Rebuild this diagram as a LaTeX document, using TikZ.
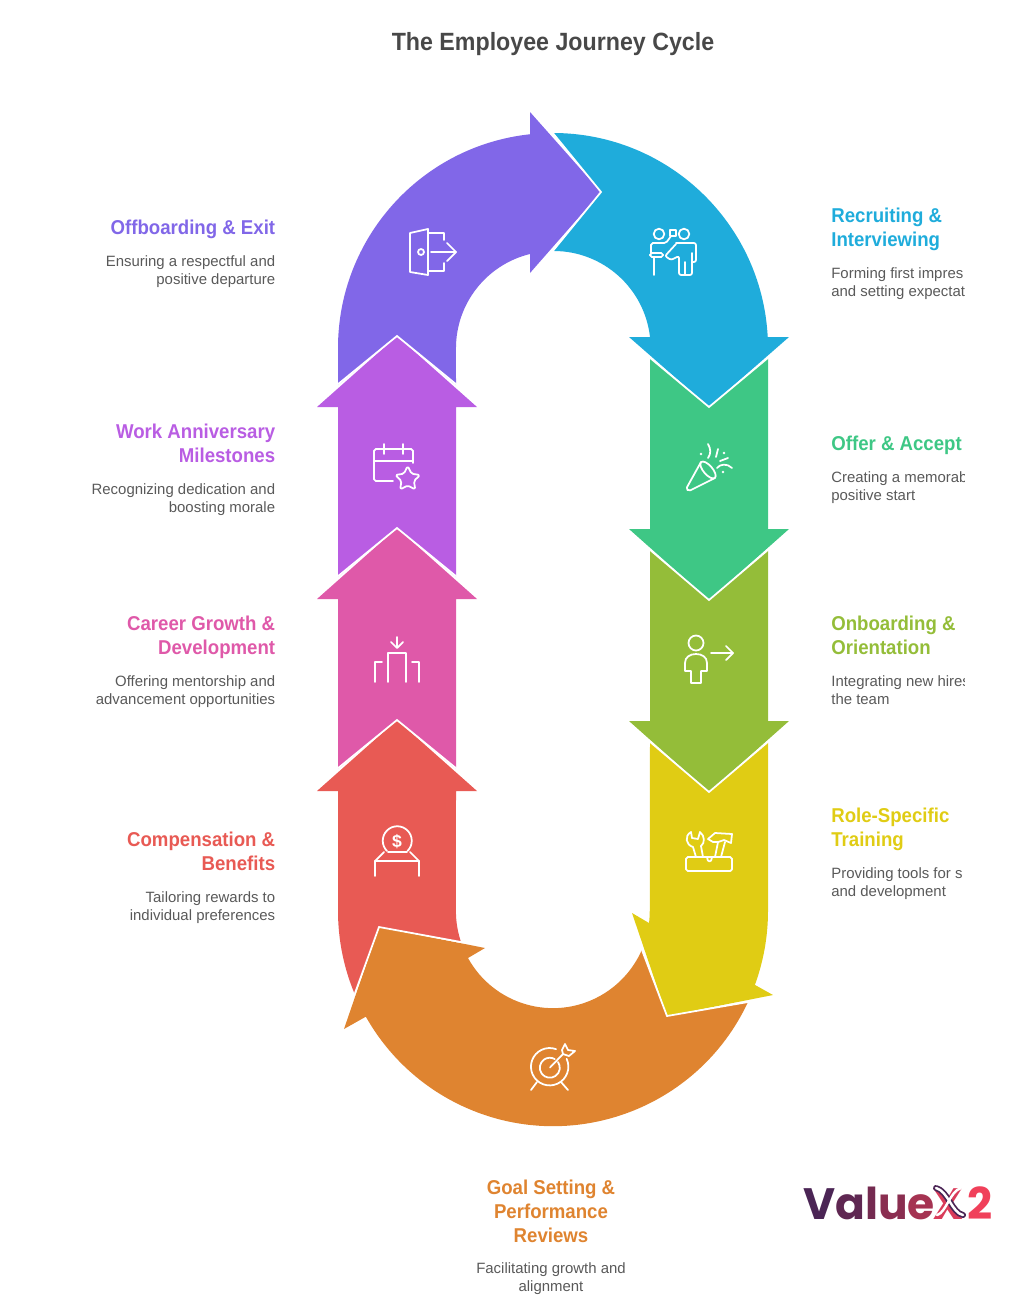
\documentclass[tikz,border=0pt]{standalone}
\usepackage{fontspec}
\setmainfont{Liberation Sans}
\newfontfamily\headfont[FakeStretch=0.93]{Liberation Sans}
\newfontfamily\logofont{Poppins}
\definecolor{jpurple}{HTML}{8167E8}
\definecolor{jblue}{HTML}{1FACDB}
\definecolor{jgreen}{HTML}{3EC785}
\definecolor{jolive}{HTML}{94BD39}
\definecolor{jyellow}{HTML}{E0CC14}
\definecolor{jorange}{HTML}{DF8430}
\definecolor{jred}{HTML}{E85A54}
\definecolor{jpink}{HTML}{DF59A9}
\definecolor{jviolet}{HTML}{B95DE3}
\definecolor{jtitle}{HTML}{484848}
\definecolor{jdesc}{HTML}{595959}
\definecolor{logoplum}{HTML}{4B2555}
\definecolor{logorose}{HTML}{D93C5A}
\definecolor{logored}{HTML}{F0405A}
\tikzset{
  seam/.style={draw=white,line width=1pt,line join=miter},
  icon/.style={draw=white,line width=1pt,line cap=round,line join=round},
  headleft/.style={anchor=north east,align=right,inner sep=0pt,font=\headfont\bfseries\fontsize{11.4}{13.66}\selectfont},
  headright/.style={anchor=north west,align=left,inner sep=0pt,font=\headfont\bfseries\fontsize{11.4}{13.66}\selectfont},
  descleft/.style={anchor=north east,align=right,inner sep=0pt,text=jdesc,font=\fontsize{8.5}{10.24}\selectfont},
  descright/.style={anchor=north west,align=left,inner sep=0pt,text=jdesc,font=\fontsize{8.5}{10.24}\selectfont},
  logotext/.style={anchor=base west,inner sep=0pt,font=\logofont\bfseries\fontsize{25}{27}\selectfont}
}
\begin{document}
\begin{tikzpicture}[x=0.02cm,y=-0.02cm]
  \useasboundingbox (0,0) rectangle (1032,1305);
  \node[inner sep=0pt,text=jtitle,font=\headfont\bfseries\fontsize{14.2}{17}\selectfont] (title) at (553,44) {The Employee Journey Cycle};

  \fill[jblue] (553,133) arc[start angle=-90,end angle=-3,radius=215] -- (768,337) -- (789,337) -- (709,407) -- (629,337) -- (650,337) arc[start angle=-6.5,end angle=-90,radius=97] -- (601,192) -- cycle;
  \fill[jgreen] (650,358) -- (650,529) -- (629,529) -- (709,600) -- (789,529) -- (768,529) -- (768,358) -- (709,407) -- cycle;
  \fill[jolive] (650,550) -- (650,721) -- (629,721) -- (709,792) -- (789,721) -- (768,721) -- (768,550) -- (709,600) -- cycle;
  \fill[jyellow] (768,742) -- (768,911) arc[start angle=0,end angle=20.1,radius=215] -- (773,995) -- (667,1016) -- (632,913) -- (649,923) arc[start angle=7.1,end angle=0,radius=97] -- (650,742) -- (709,792) -- cycle;
  \fill[jorange] (748,1002) arc[start angle=25,end angle=150.6,radius=215] -- (344,1029) -- (379,927) -- (485,948) -- (468,958) arc[start angle=151.1,end angle=23.7,radius=97] -- (667,1016) -- cycle;
  \fill[jred] (456,791) -- (477,791) -- (397,720) -- (317,791) -- (338,791) -- (338,911) arc[start angle=180,end angle=157.5,radius=215] -- (379,927) -- (461,942) arc[start angle=161.4,end angle=180,radius=97] -- cycle;
  \fill[jpink] (338,769) -- (338,599) -- (317,599) -- (397,528) -- (477,599) -- (456,599) -- (456,769) -- (397,720) -- cycle;
  \fill[jviolet] (338,577) -- (338,407) -- (317,407) -- (397,336) -- (477,407) -- (456,407) -- (456,577) -- (397,528) -- cycle;
  \fill[jpurple] (338,385) -- (338,348) arc[start angle=180,end angle=263.9,radius=215] -- (530,112) -- (601,192) -- (530,273) -- (530,254) arc[start angle=256.3,end angle=180,radius=97] -- (456,385) -- (397,336) -- cycle;

  \draw[seam] (552,132) -- (601,192) -- (552,252);
  \draw[seam] (649,357) -- (709,407) -- (769,357);
  \draw[seam] (649,549) -- (709,600) -- (769,549);
  \draw[seam] (649,741) -- (709,792) -- (769,741);
  \draw[seam] (642,950) -- (667,1016) -- (748,1002);
  \draw[seam] (355,993) -- (379,927) -- (461,942);
  \draw[seam] (337,769) -- (397,720) -- (457,769);
  \draw[seam] (337,577) -- (397,528) -- (457,577);
  \draw[seam] (337,385) -- (397,336) -- (457,385);

  \draw[icon] (410,233) -- (428,229) -- (428,275) -- (410,272) -- cycle;
  \draw[icon] (421,252) circle[radius=3];
  \draw[icon] (428,233) -- (444,233) -- (444,240);
  \draw[icon] (428,271) -- (444,271) -- (444,263);
  \draw[icon] (431,252) -- (456,252);
  \draw[icon] (447,243) -- (456,252) -- (447,261);

  \draw[icon] (659,234) circle[radius=5.3];
  \draw[icon] (684,234) circle[radius=5.3];
  \draw[icon] (670,230) rectangle (676,236);
  \draw[icon,rounded corners=1pt] (651,253) -- (651,243) -- (666,243) -- (671,236);
  \draw[icon,rounded corners=1pt] (650,253) rectangle (663,257);
  \draw[icon] (654,257) -- (654,275);
  \draw[icon,rounded corners=1.2pt] (676,243) -- (696,243) -- (696,262) -- (692,262);
  \draw[icon,rounded corners=1.2pt] (692,253) -- (692,275) -- (679,275) -- (679,256) -- (671,260) -- (665,256) -- (676,244);
  \draw[icon] (685,262) -- (685,275);

  \draw[icon,rounded corners=1pt] (701,462) -- (686,489) -- (689,491) -- (715,478);
  \draw[icon,rotate around={-49:(708,470)}] (708,470) ellipse[x radius=10.5,y radius=4.5];
  \draw[icon] (708,444) .. controls (711,449) and (711,454) .. (708,458);
  \draw[icon] (718,449) -- (716,457);
  \draw[icon] (728,458) -- (720,461);
  \draw[icon] (717,468) .. controls (720,464) and (727,463) .. (732,468);
  \foreach \x/\y in {701/454,724/453,723/472} {
    \fill[white] (\x,\y) circle[radius=1.3];
  }

  \draw[icon] (696,643) circle[radius=7.5];
  \draw[icon] (685,671) -- (685,663) .. controls (685,657) and (690,654) .. (696,654) .. controls (702,654) and (707,657) .. (707,663) -- (707,671) -- (701,671) -- (701,683) -- (691,683) -- (691,671) -- cycle;
  \draw[icon] (711,653) -- (733,653);
  \draw[icon] (726,646) -- (733,653) -- (726,660);

  \draw[icon,rounded corners=1pt] (686,857) rectangle (732,871);
  \draw[icon] (707,857) .. controls (707,863) and (712,863) .. (712,857);
  \draw[icon] (696,857) -- (693,847) .. controls (686,845) and (684,836) .. (691,832) -- (692,838) -- (698,839) -- (700,832) .. controls (705,836) and (705,843) .. (701,846) -- (703,857);
  \draw[icon] (708,839) -- (715,833) -- (732,834) -- (731,843) -- (724,840) -- (718,842) -- (713,842) -- cycle;
  \draw[icon] (715,857) -- (718,842);
  \draw[icon] (721,857) -- (725,842);

  \draw[icon] (387,851) arc[start angle=135,end angle=405,radius=14.5];
  \node[inner sep=0pt,text=white,font=\bfseries\fontsize{10}{12}\selectfont] (coin) at (397,842) {\$};
  \draw[icon] (388,852) -- (407,852);
  \draw[icon] (375,876) -- (375,861) -- (384,852);
  \draw[icon] (419,876) -- (419,861) -- (410,852);
  \draw[icon] (375,861) -- (419,861);

  \draw[icon] (397,637) -- (397,647);
  \draw[icon] (391,642) -- (397,648) -- (403,642);
  \draw[icon] (388,682) -- (388,653) -- (406,653) -- (406,682);
  \draw[icon] (375,682) -- (375,662) -- (382,662);
  \draw[icon] (419,682) -- (419,662) -- (412,662);

  \draw[icon,rounded corners=1pt] (393,481) -- (374,481) -- (374,449) -- (413,449) -- (413,463);
  \draw[icon] (374,461) -- (413,461);
  \foreach \x in {384,403} {
    \draw[icon] (\x,444) -- (\x,454);
  }
  \draw[icon,rounded corners=1pt] (407.7,466) -- (411.5,473.7) -- (420.1,475) -- (413.9,481) -- (415.3,489.5) -- (407.7,485.5) -- (400.1,489.5) -- (401.5,481) -- (395.3,475) -- (403.9,473.7) -- cycle;

  \draw[icon] (566.6,1058.8) arc[start angle=-25,end angle=290,radius=18.7];
  \draw[icon] (558,1062) arc[start angle=-35,end angle=300,radius=10];
  \draw[icon] (550,1067.5) -- (563,1054);
  \draw[icon] (562,1050) -- (565,1044) -- (568,1050) -- (575,1051) -- (569,1056) -- (563,1054) -- cycle;
  \draw[icon] (537,1082) -- (531,1090);
  \draw[icon] (561,1082) -- (568,1090);

  \node[headleft,text=jpurple] (offhead) at (275.5,219.5) {Offboarding \& Exit};
  \node[descleft] (offtext) at (275.5,255) {Ensuring a respectful and\\positive departure};
  \node[headleft,text=jviolet] (workhead) at (275.5,423.5) {Work Anniversary\\Milestones};
  \node[descleft] (worktext) at (275.5,483) {Recognizing dedication and\\boosting morale};
  \node[headleft,text=jpink] (careerhead) at (275.5,615.5) {Career Growth \&\\Development};
  \node[descleft] (careertext) at (275.5,675) {Offering mentorship and\\advancement opportunities};
  \node[headleft,text=jred] (comphead) at (275.5,831.5) {Compensation \&\\Benefits};
  \node[descleft] (comptext) at (275.5,891) {Tailoring rewards to\\individual preferences};

  \begin{scope}
    \clip (800,150) rectangle (964,950);
    \node[headright,text=jblue] (recruithead) at (831,207.5) {Recruiting \&\\Interviewing};
    \node[descright] (recruittext) at (831,267) {Forming first impres\\and setting expectat};
    \node[headright,text=jgreen] (offerhead) at (831,435.5) {Offer \& Accept};
    \node[descright] (offertext) at (831,471) {Creating a memorab\\positive start};
    \node[headright,text=jolive] (onboardhead) at (831,615.5) {Onboarding \&\\Orientation};
    \node[descright] (onboardtext) at (831,675) {Integrating new hires\\the team};
    \node[headright,text=jyellow] (rolehead) at (831,807.5) {Role-Specific\\Training};
    \node[descright] (roletext) at (831,867) {Providing tools for s\\and development};
  \end{scope}

  \node[anchor=north,align=center,inner sep=0pt,text=jorange,font=\headfont\bfseries\fontsize{11.4}{13.66}\selectfont] (goalhead) at (551,1179.5) {Goal Setting \&\\Performance\\Reviews};
  \node[anchor=north,align=center,inner sep=0pt,text=jdesc,font=\fontsize{8.5}{10.24}\selectfont] (goaltext) at (551,1262) {Facilitating growth and\\alignment};

  \node[logotext] (logoname) at (803,1219) {\textcolor[HTML]{4B2555}{V}\textcolor[HTML]{5F2752}{a}\textcolor[HTML]{742A50}{l}\textcolor[HTML]{8A2E50}{u}\textcolor[HTML]{A53352}{e}};
  \node[logotext,text=logorose] (logox) at (932,1219) {X};
  \draw[draw=logoplum,line width=3.4pt,line cap=round] (936,1188) .. controls (948,1191) and (952,1213) .. (963,1215);
  \draw[draw=white,line width=1.4pt,line cap=round] (936,1188) .. controls (948,1191) and (952,1213) .. (963,1215);
  \draw[draw=white,line width=1.4pt,line cap=round] (961,1188) .. controls (950,1191) and (946,1213) .. (937,1215);
  \node[logotext,text=logored] (logotwo) at (967,1219) {2};
\end{tikzpicture}
\end{document}
